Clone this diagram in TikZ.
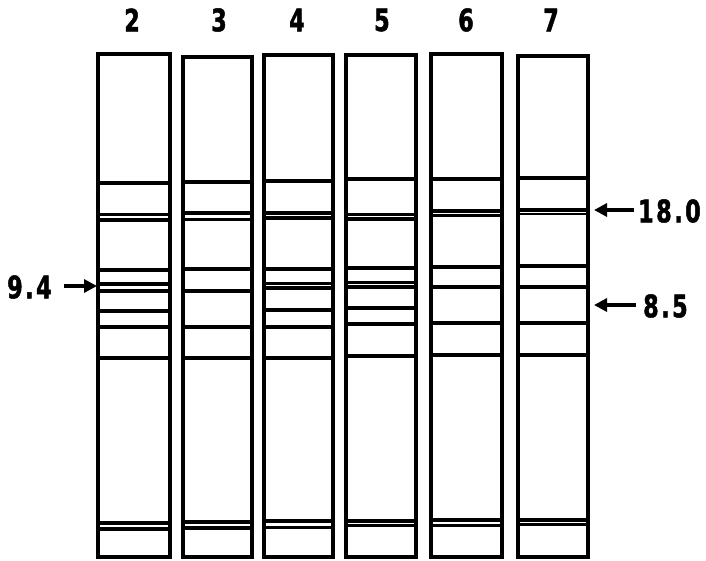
\documentclass[tikz,border=0pt]{standalone}
\usepackage{fontspec}
\setmainfont{DejaVu Sans}[FakeStretch=0.72,LetterSpace=8,FakeBold=1.5]
\usetikzlibrary{arrows.meta}
\begin{document}
\begin{tikzpicture}[x=1pt,y=-1pt,
  lanebox/.style={draw=black,line width=3.6pt},
  lbl/.style={font=\bfseries\fontsize{31}{31}\selectfont,inner sep=0pt},
  pointer/.style={line width=3.4pt,-{Triangle[length=13pt,width=13pt]}}]
\useasboundingbox (0,0) rectangle (706,560);
% lanes: left, right, top
\foreach \n/\l/\r/\t in {2/98/170/54,3/183/252/57,4/264/333/55,5/346/416/55,6/431/502/54,7/518/588/56}{
  \draw[lanebox] (\l,\t) rectangle (\r,557);
  \coordinate (L\n) at (\l,300);
  \coordinate (R\n) at (\r,300);
}
% lane 2
\foreach \y/\w in {183.3/4,214.5/2.5,220/4,270/4,284/4,290.7/4,310.7/4,327.3/4,358.3/4,523/4,529/4.5}
  \draw[line width=\w pt] (98,\y) -- (170,\y);
% lane 3
\foreach \y/\w in {181.7/4,213.3/4,219/3,269.3/4,290.7/4,327.3/4,358.3/4,521.5/4,527.5/4}
  \draw[line width=\w pt] (183,\y) -- (252,\y);
% lane 4
\foreach \y/\w in {181/4,212.7/4,218/3.5,269.3/4,283.3/2.5,288.3/4,310/4,326.7/4,358.3/4,521/4.5,527/3}
  \draw[line width=\w pt] (264,\y) -- (333,\y);
% lane 5
\foreach \y/\w in {179.3/4,214.3/2.5,219/4,268.3/4,282.7/2.5,287.3/4,308.3/4,324.3/4,356/4,521/4.5,525.5/2.5}
  \draw[line width=\w pt] (346,\y) -- (416,\y);
% lane 6
\foreach \y/\w in {179.3/4,210.7/4,215.5/2.5,267.3/4,287.3/4,323.3/4,355/4,520/4,525.5/2.5}
  \draw[line width=\w pt] (431,\y) -- (502,\y);
% lane 7
\foreach \y/\w in {178.3/4,210/4,214/2.5,266/4,286.7/4,323.3/4,355/4,520/4,524.5/2.5}
  \draw[line width=\w pt] (518,\y) -- (588,\y);
% lane labels
\foreach \n/\x in {2/132,3/219,4/297,5/382,6/466,7/551}
  \node[lbl] (t\n) at (\x,20) {\n};
% size markers
\node[lbl,anchor=west] (k94) at (7,287) {9.4};
\coordinate (a94) at (97,286);
\draw[pointer] (k94.east) ++(12,-1) coordinate (s94) -- (a94);
\node[lbl,anchor=west] (k180) at (638,211) {18.0};
\coordinate (a180) at (594,210);
\draw[pointer] (k180.west) ++(-4,-1) coordinate (s180) -- (a180);
\node[lbl,anchor=west] (k85) at (643,306) {8.5};
\coordinate (a85) at (594,305);
\draw[pointer] (k85.west) ++(-7,-1) coordinate (s85) -- (a85);
\end{tikzpicture}
\end{document}
